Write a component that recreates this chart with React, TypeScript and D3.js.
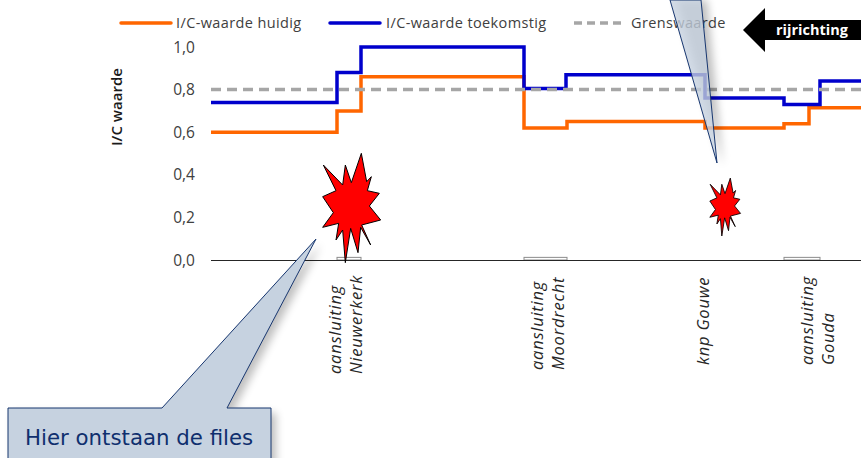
import React from 'react';
import * as d3 from 'd3';

const WIDTH = 861;
const HEIGHT = 458;

// km along the route, step starts
const kmHuidig = [0, 12.6, 15, 31.3, 35.6, 49.4, 57.3, 59.8, 65];
const icHuidig = [0.6, 0.7, 0.86, 0.62, 0.65, 0.62, 0.64, 0.715, 0.715];
const kmToekomst = [0, 12.6, 15, 31.3, 35.5, 49.4, 57.3, 60.9, 65];
const icToekomst = [0.74, 0.88, 1.0, 0.805, 0.87, 0.76, 0.73, 0.84, 0.84];
const kmGrens = [0, 65];
const icGrens = [0.8, 0.8];

const yTicks = [0, 0.2, 0.4, 0.6, 0.8, 1.0];

// small bars at the junctions: start km, end km, value
const barStart = [12.6, 31.3, 57.3];
const barEnd = [15, 35.6, 60.9];
const barValue = [0.01, 0.01, 0.01];

const junctionKm = [13.4, 33.6, 49.2, 60.6];
const junctionLabels = [
  ['aansluiting', 'Nieuwerkerk'],
  ['aansluiting', 'Moordrecht'],
  ['knp Gouwe'],
  ['aansluiting', 'Gouda'],
];
const junctionBottom = [374, 370, 365, 365];

const legendNames = ['I/C-waarde huidig', 'I/C-waarde toekomstig', 'Grenswaarde'];

const x = d3.scaleLinear().domain([0, 65]).range([211, 861]);
const y = d3.scaleLinear().domain([0, 1]).range([260, 47]);

const stepLine = d3
  .line<[number, number]>()
  .x(d => x(d[0]))
  .y(d => y(d[1]))
  .curve(d3.curveStepAfter);

const pairs = (xs: number[], ys: number[]) => xs.map((k, i) => [k, ys[i]] as [number, number]);

// explosion shape, annotation drawn on top of the chart
const burst = [
  [214, 40], [230, 125], [244, 110], [232, 152], [268, 160], [238, 198], [272, 240], [215, 255],
  [242, 315], [212, 262], [204, 338], [182, 265], [166, 368], [158, 270], [138, 300], [146, 250],
  [98, 262], [130, 218], [98, 170], [138, 152], [100, 75], [158, 135], [166, 75], [184, 128],
].map(p => p.map(v => v / 3).join(',')).join(' ');

const FONT = '"Open Sans", sans-serif';
const CALLOUT_FILL = '#c6d2e0';
const CALLOUT_STROKE = '#17366f';

const App = () => {
  return (
    <svg
      width={WIDTH}
      height={HEIGHT}
      style={{ position: 'absolute', left: 0, top: 0, display: 'block', background: '#fff' }}
      fontFamily={FONT}
    >
      <defs>
        <filter id="shade" x="-30%" y="-30%" width="160%" height="160%">
          <feGaussianBlur stdDeviation="4" />
        </filter>
      </defs>

      {/* legend */}
      <g fontSize={14.5} fill="#404040" letterSpacing={0.38}>
        <line x1={121} x2={171} y1={23} y2={23} stroke="#ff6600" strokeWidth={3.5} strokeLinecap="round" />
        <text x={176} y={28}>{legendNames[0]}</text>
        <line x1={330} x2={380} y1={23} y2={23} stroke="#0000cc" strokeWidth={3.5} strokeLinecap="round" />
        <text x={386} y={28}>{legendNames[1]}</text>
        <line x1={574} x2={625} y1={23} y2={23} stroke="#a6a6a6" strokeWidth={3.5} strokeDasharray="8 5" />
        <text x={631} y={28}>{legendNames[2]}</text>
      </g>

      {/* y axis */}
      <text
        transform="translate(122,107) rotate(-90)"
        textAnchor="middle"
        fontSize={15}
        fontWeight={600}
        fill="#1a1a1a"
      >
        I/C waarde
      </text>
      {yTicks.map(t => (
        <text key={t} x={195} y={y(t) + 5.5} textAnchor="end" fontSize={15.5} fill="#404040">
          {t.toFixed(1).replace('.', ',')}
        </text>
      ))}

      {/* bars */}
      {barStart.map((s, i) => (
        <rect
          key={s}
          x={x(s)}
          y={y(barValue[i]) - 0.5}
          width={x(barEnd[i]) - x(s)}
          height={y(0) - y(barValue[i]) + 0.5}
          fill="#fff"
          stroke="#8c8c8c"
          strokeWidth={1}
        />
      ))}
      <line x1={x(0)} x2={x(65)} y1={y(0) + 0.5} y2={y(0) + 0.5} stroke="#262626" strokeWidth={1} />

      {/* series */}
      <path d={stepLine(pairs(kmHuidig, icHuidig)) ?? ''} fill="none" stroke="#ff6600" strokeWidth={3.5} />
      <path d={stepLine(pairs(kmToekomst, icToekomst)) ?? ''} fill="none" stroke="#0000cc" strokeWidth={3.5} />
      <path
        d={stepLine(pairs(kmGrens, icGrens)) ?? ''}
        fill="none"
        stroke="#a6a6a6"
        strokeWidth={3.5}
        strokeDasharray="10 6"
      />

      {/* x labels */}
      {junctionLabels.map((lines, i) => (
        <g key={i} fontSize={16.5} fontStyle="italic" fill="#262626" letterSpacing={0.75}>
          {lines.map((line, j) => {
            const offset = (j - (lines.length - 1) / 2) * 21;
            return (
              <text
                key={line}
                transform={`translate(${x(junctionKm[i]) + offset + 6},${junctionBottom[i]}) rotate(-90)`}
              >
                {line}
              </text>
            );
          })}
        </g>
      ))}

      {/* explosions */}
      <polygon
        points={burst}
        transform="translate(290,140)"
        fill="#ff0000"
        stroke="#000"
        strokeWidth={1}
        strokeLinejoin="miter"
      />
      <polygon
        points={burst}
        transform="translate(692.5,171) scale(0.53)"
        fill="#ff0000"
        stroke="#000"
        strokeWidth={1.6}
      />

      {/* direction arrow */}
      <polygon points="743,30 765,8 765,20 861,20 861,40 765,40 765,52" fill="#000" />
      <text x={776} y={35} fill="#fff" fontSize={14.5} fontWeight={700}>
        rijrichting
      </text>

      {/* top callout */}
      <polygon points="676,0 707,0 723,166" fill="#000" opacity={0.25} filter="url(#shade)" />
      <polygon
        points="670,0 701,0 717,163"
        fill={CALLOUT_FILL}
        fillOpacity={0.78}
        stroke={CALLOUT_STROKE}
        strokeWidth={1}
      />

      {/* bottom callout */}
      <polygon
        points="13,413 167,413 321,244 232,413 276,413 276,470 13,470"
        fill="#000"
        opacity={0.25}
        filter="url(#shade)"
      />
      <polygon
        points="8,408 162,408 316,239 227,408 271,408 271,470 8,470"
        fill={CALLOUT_FILL}
        stroke={CALLOUT_STROKE}
        strokeWidth={1}
      />
      <text x={25} y={445} fontFamily='"DejaVu Sans", sans-serif' fontSize={21.3} fill="#0f2f6e">
        Hier ontstaan de files
      </text>
    </svg>
  );
};

export default App;
